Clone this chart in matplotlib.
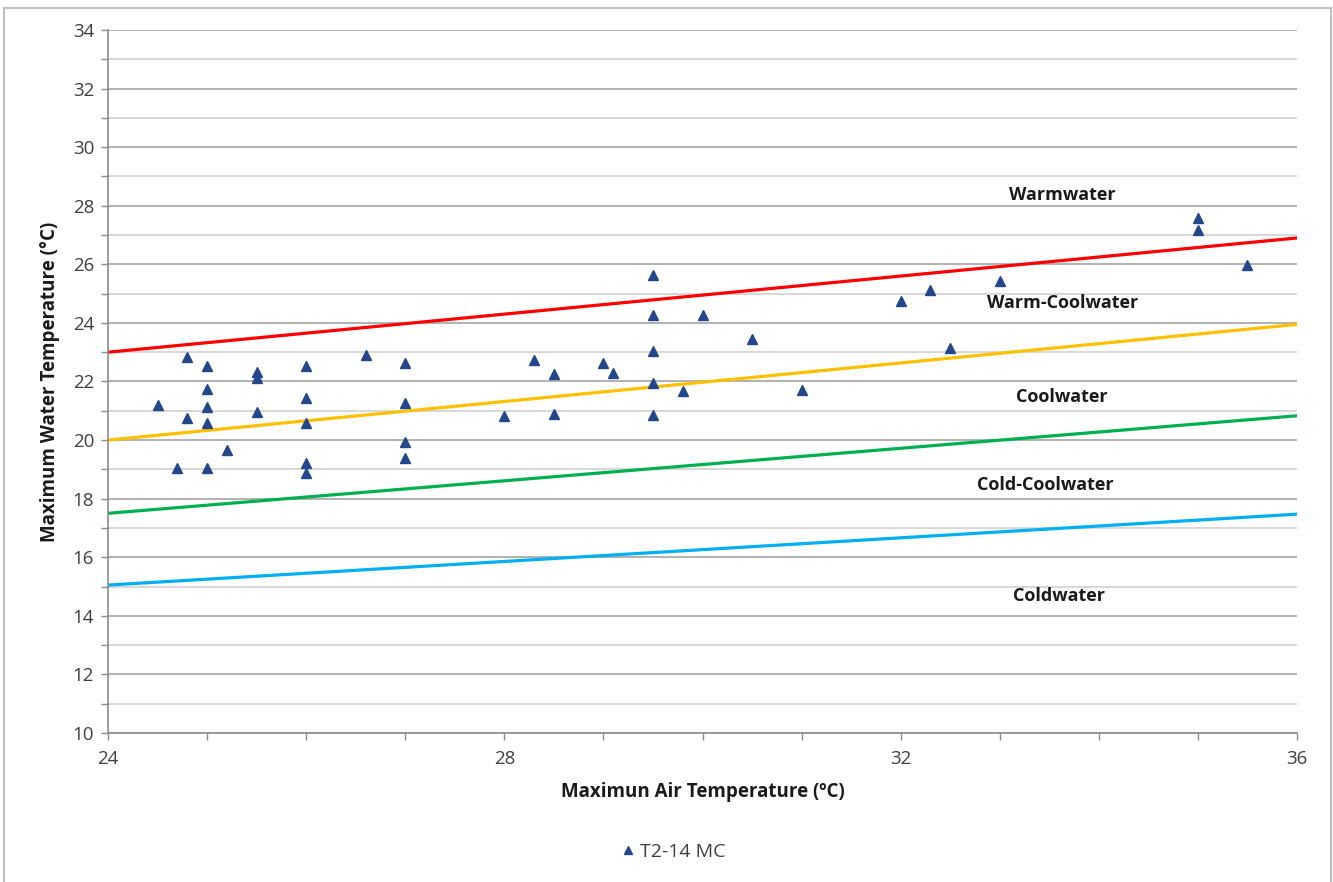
import matplotlib
matplotlib.use("Agg")
import matplotlib.pyplot as plt
from matplotlib.patches import Rectangle
from matplotlib.ticker import MultipleLocator

plt.rcParams['font.family'] = ['Open Sans', 'DejaVu Sans']

# Observed maximum air / water temperatures (T2-14 MC)
air_temp = [24.8, 25.0, 25.5, 25.5, 26.0, 26.6, 27.0, 25.0, 24.5, 25.0,
            26.0, 27.0, 24.8, 25.5, 25.0, 26.0, 25.2, 27.0, 27.0, 24.7,
            25.0, 26.0, 26.0,
            29.5, 29.5, 30.0, 30.5, 29.5, 28.3, 28.5, 29.0, 29.1, 29.5,
            29.8, 31.0, 28.0, 28.5, 29.5,
            35.0, 35.0, 35.5, 33.0, 32.3, 32.0, 32.5]
water_temp = [22.83, 22.52, 22.32, 22.12, 22.52, 22.92, 22.62, 21.73, 21.19, 21.14,
              21.42, 21.25, 20.76, 20.97, 20.57, 20.57, 19.66, 19.92, 19.38, 19.05,
              19.05, 19.22, 18.86,
              25.63, 24.27, 24.27, 23.44, 23.05, 22.75, 22.24, 22.62, 22.28, 21.96,
              21.66, 21.71, 20.83, 20.89, 20.87,
              27.59, 27.17, 25.97, 25.44, 25.14, 24.75, 23.15]

# Thermal class boundaries (water temperature at air temperature 24 and 36)
line_x = [24, 36]
warm_line = [23.0, 26.9]
warmcool_line = [20.0, 23.95]
cool_line = [17.5, 20.83]
cold_line = [15.05, 17.47]

# Class names and their label positions
class_names = ["Warmwater", "Warm-Coolwater", "Coolwater", "Cold-Coolwater", "Coldwater"]
class_x = [33.63, 33.63, 33.63, 33.46, 33.6]
class_y = [28.36, 24.68, 21.47, 18.46, 14.68]

W, H = 1333, 882
fig = plt.figure(figsize=(W / 100, H / 100), dpi=100)
ax = fig.add_axes([108 / W, (H - 733) / H, (1297 - 108) / W, (733 - 30) / H])

# outer chart frame
fig.patches.append(Rectangle((4 / W, -0.1), (1331 - 4) / W, (H - 8) / H + 0.1,
                             transform=fig.transFigure, fill=False,
                             edgecolor='#BFBFBF', linewidth=1.5, zorder=0))

ax.set_xlim(24, 36)
ax.set_ylim(10, 34)
ax.xaxis.set_major_locator(MultipleLocator(4))
ax.xaxis.set_minor_locator(MultipleLocator(1))
ax.yaxis.set_major_locator(MultipleLocator(2))
ax.yaxis.set_minor_locator(MultipleLocator(1))

ax.grid(axis='y', which='major', color='#ABABAB', linewidth=1.3, zorder=0)
ax.grid(axis='y', which='minor', color='#CDCDCD', linewidth=1.1, zorder=0)
ax.set_axisbelow(True)

for side in ('top', 'right'):
    ax.spines[side].set_visible(False)
for side in ('left', 'bottom'):
    ax.spines[side].set_color('#8C8C8C')
    ax.spines[side].set_linewidth(1.2)

ax.tick_params(which='both', direction='out', length=5, color='#8C8C8C', width=1.0)
ax.tick_params(axis='both', which='major', labelsize=13.5, labelcolor='#404040')
ax.tick_params(axis='x', which='major', pad=7)
ax.tick_params(axis='y', which='major', pad=5)

ax.plot(line_x, warm_line, color='#FF0000', linewidth=2.3, zorder=2)
ax.plot(line_x, warmcool_line, color='#FFC000', linewidth=2.3, zorder=2)
ax.plot(line_x, cool_line, color='#00B050', linewidth=2.3, zorder=2)
ax.plot(line_x, cold_line, color='#00B0F0', linewidth=2.3, zorder=2)

ax.plot(air_temp, water_temp, linestyle='none', marker='^', markersize=7.5,
        color='#23478A', label='T2-14 MC', zorder=3)

for name, x, y in zip(class_names, class_x, class_y):
    ax.text(x, y, name, ha='center', va='center', fontsize=13,
            fontweight='bold', color='#1A1A1A', zorder=4)

ax.set_xlabel('Maximun Air Temperature (ºC)', fontsize=13.5, fontweight='bold',
              color='#1A1A1A', labelpad=10)
ax.set_ylabel('Maximum Water Temperature (°C)', fontsize=13.5, fontweight='bold',
              color='#1A1A1A', labelpad=9)

fig.legend(loc='center', bbox_to_anchor=(674 / W, (H - 852) / H), frameon=False,
           handlelength=0.6, handletextpad=0.35, markerscale=0.75,
           prop={'size': 14}, labelcolor='#404040')

fig.savefig('out.png', dpi=100, facecolor='white')
